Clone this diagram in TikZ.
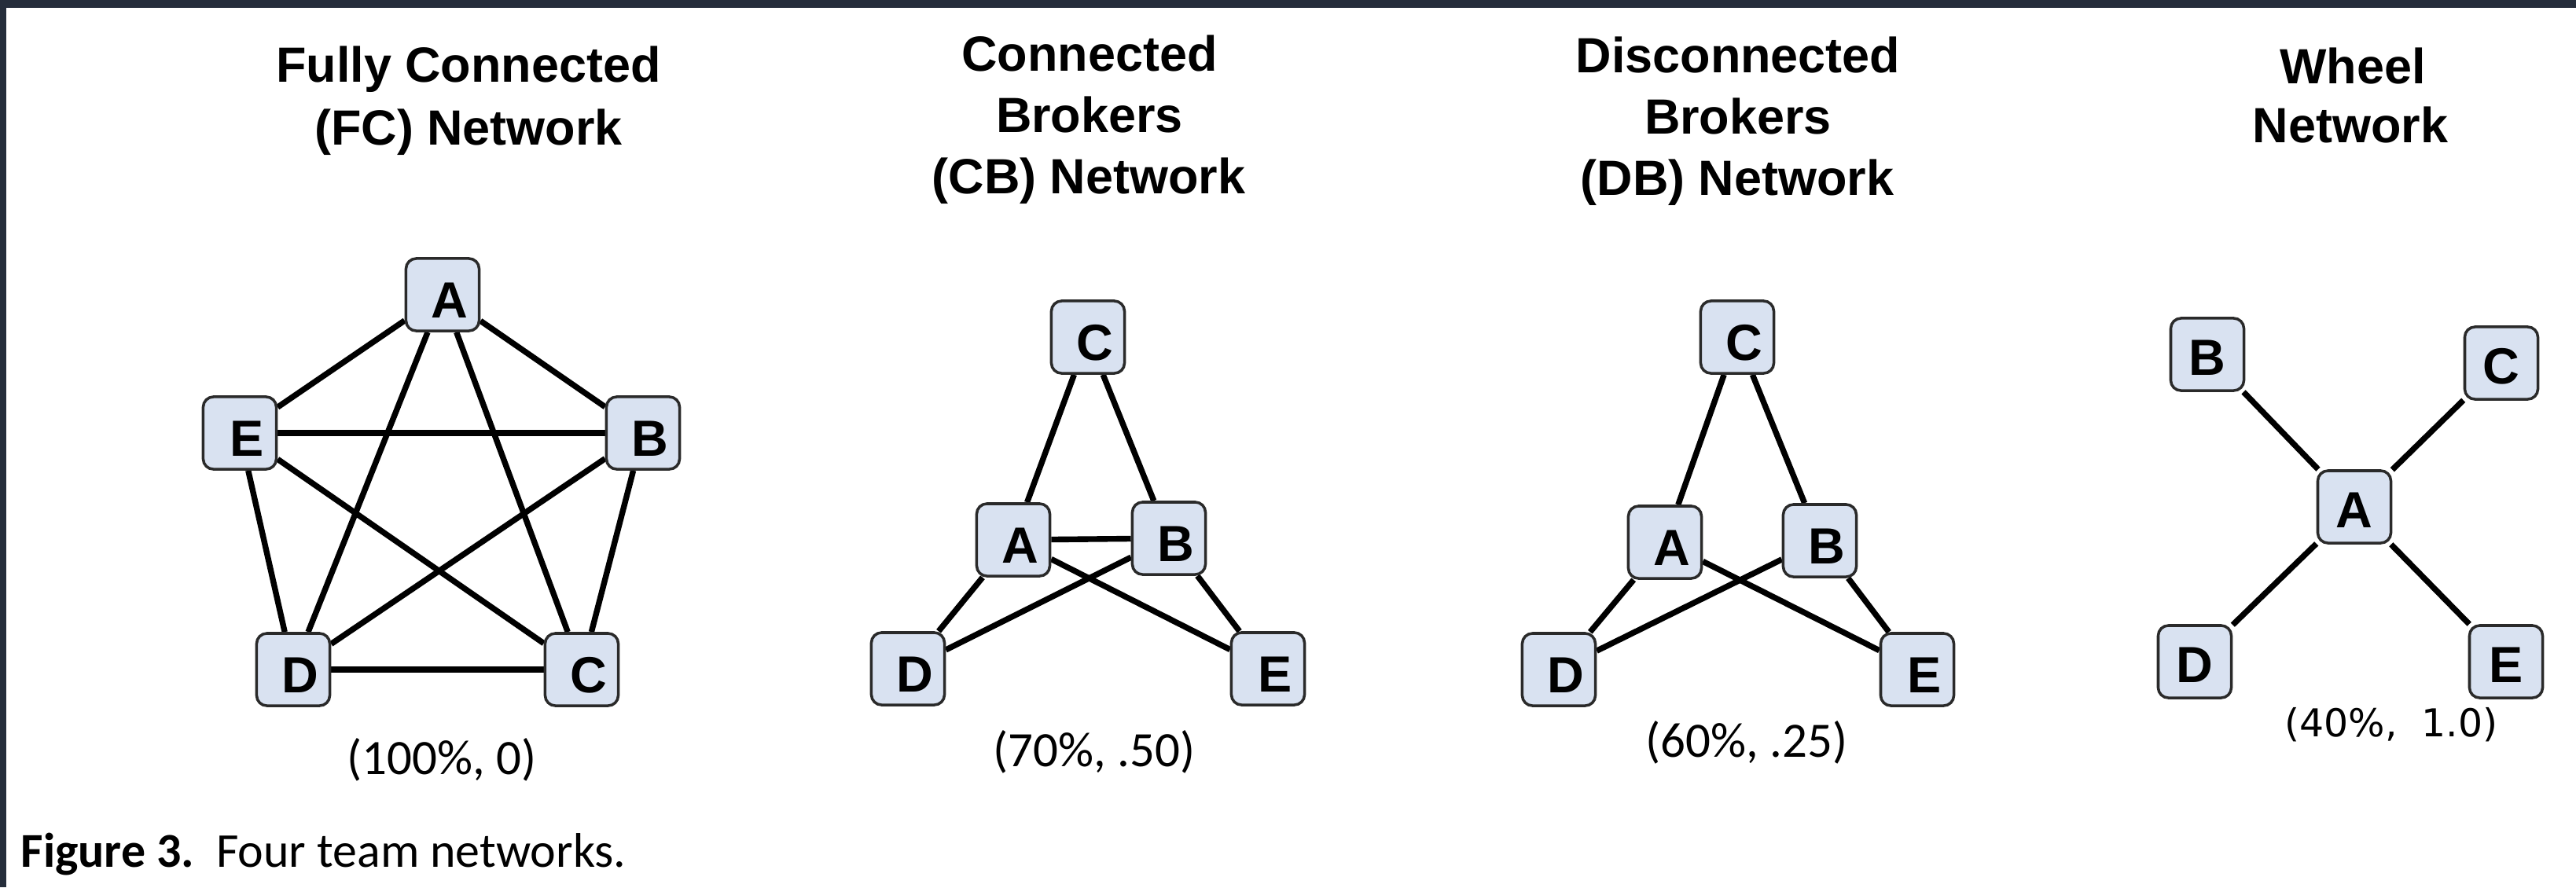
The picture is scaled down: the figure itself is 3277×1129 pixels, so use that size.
\documentclass[tikz,border=0pt]{standalone}
\usepackage{fontspec}
\setmainfont{Liberation Sans}
\newfontfamily\lblfont{Carlito}
\newfontfamily\wheelfont{DejaVu Sans}
\usetikzlibrary{backgrounds}
\definecolor{nodefill}{HTML}{D9E2F1}
\definecolor{nodeline}{HTML}{2A2A2A}
\definecolor{framecol}{HTML}{252D3B}
\newcommand\shl[1]{\kern0.18cm\raisebox{-0.07cm}[\height][\depth]{#1}}
\newcommand\shw[1]{\raisebox{-0.04cm}[\height][\depth]{#1}}
\tikzset{
  nd/.style={draw=nodeline, line width=1pt, fill=nodefill, rounded corners=0.13cm,
    minimum width=0.93cm, minimum height=0.92cm, inner sep=0pt,
    font=\fontsize{18.4pt}{20pt}\selectfont\bfseries},
  edge/.style={line width=2.1pt, black},
  ttl/.style={anchor=base, inner sep=0pt, font=\fontsize{17.9pt}{22pt}\selectfont\bfseries},
  res/.style={inner sep=0pt, font=\lblfont\fontsize{17.9pt}{22pt}\selectfont},
}
\begin{document}
\begin{tikzpicture}[x=0.01cm, y=-0.01cm]
\useasboundingbox (0,0) rectangle (3277,1129);

% ---------- Fully Connected ----------
\node[ttl] (ft1) at (596,104) {Fully Connected};
\node[ttl] (ft2) at (596,184) {(FC) Network};
\node[nd] (fa) at (563,375) {\shl{A}};
\node[nd] (fe) at (305,551) {\shl{E}};
\node[nd] (fb) at (818,551) {\shl{B}};
\node[nd] (fd) at (373,852) {\shl{D}};
\node[nd] (fc) at (740,852) {\shl{C}};
\node[res] (fr) at (562,967) {(100\%, 0)};

% ---------- Connected Brokers ----------
\node[ttl] (ct1) at (1386,90) {Connected};
\node[ttl] (ct2) at (1386,168) {Brokers};
\node[ttl] (ct3) at (1385,246) {(CB) Network};
\node[nd] (cc) at (1384,429) {\shl{C}};
\node[nd] (ca) at (1289,687) {\shl{A}};
\node[nd] (cb) at (1487,685) {\shl{B}};
\node[nd] (cd) at (1155,851) {\shl{D}};
\node[nd] (ce) at (1613,851) {\shl{E}};
\node[res] (cr) at (1392,957) {(70\%, .50)};

% ---------- Disconnected Brokers ----------
\node[ttl] (dt1) at (2211,92) {Disconnected};
\node[ttl] (dt2) at (2211,170) {Brokers};
\node[ttl] (dt3) at (2210,248) {(DB) Network};
\node[nd] (dc) at (2210,429) {\shl{C}};
\node[nd] (da) at (2118,690) {\shl{A}};
\node[nd] (db) at (2315,688) {\shl{B}};
\node[nd] (dd) at (1983,852) {\shl{D}};
\node[nd] (de) at (2439,852) {\shl{E}};
\node[res] (dr) at (2222,945) {(60\%, .25)};

% ---------- Wheel ----------
\node[ttl] (wt1) at (2993,106) {Wheel};
\node[ttl] (wt2) at (2990,181) {Network};
\node[nd] (wb) at (2808,451) {\shw{B}};
\node[nd] (wc) at (3182,462) {\shw{C}};
\node[nd] (wa) at (2995,645) {\shw{A}};
\node[nd] (wd) at (2792,842) {\shw{D}};
\node[nd] (we) at (3188,842) {\shw{E}};
\node[res, font=\wheelfont\fontsize{13.9pt}{17pt}\selectfont] (wr) at (3042,922) {(40\%,\ \ 1.0)};

% ---------- Caption ----------
\node[anchor=base west, inner sep=0pt, font=\lblfont\fontsize{17.6pt}{21pt}\selectfont] (cap) at (26,1103)
  {\textbf{Figure 3.}\ \ Four team networks.};

\begin{scope}[on background layer]
  \fill[white] (0,0) rectangle (3277,1129);
  \fill[framecol] (0,0) rectangle (3277,10);
  \fill[framecol] (0,0) rectangle (8,1129);

  \draw[edge] (fa) -- (fb);
  \draw[edge] (fa) -- (fc);
  \draw[edge] (fa) -- (fd);
  \draw[edge] (fa) -- (fe);
  \draw[edge] (fb) -- (fc);
  \draw[edge] (fb) -- (fd);
  \draw[edge] (fb) -- (fe);
  \draw[edge] (fc) -- (fd);
  \draw[edge] (fc) -- (fe);
  \draw[edge] (fd) -- (fe);

  \draw[edge] (cc) -- (ca);
  \draw[edge] (cc) -- (cb);
  \draw[edge] (ca) -- (cb);
  \draw[edge] (ca) -- (cd);
  \draw[edge] (ca) -- (ce);
  \draw[edge] (cb) -- (cd);
  \draw[edge] (cb) -- (ce);

  \draw[edge] (dc) -- (da);
  \draw[edge] (dc) -- (db);
  \draw[edge] (da) -- (dd);
  \draw[edge] (da) -- (de);
  \draw[edge] (db) -- (dd);
  \draw[edge] (db) -- (de);

  \draw[edge] (wa) -- (wb);
  \draw[edge] (wa) -- (wc);
  \draw[edge] (wa) -- (wd);
  \draw[edge] (wa) -- (we);
\end{scope}
\end{tikzpicture}
\end{document}
